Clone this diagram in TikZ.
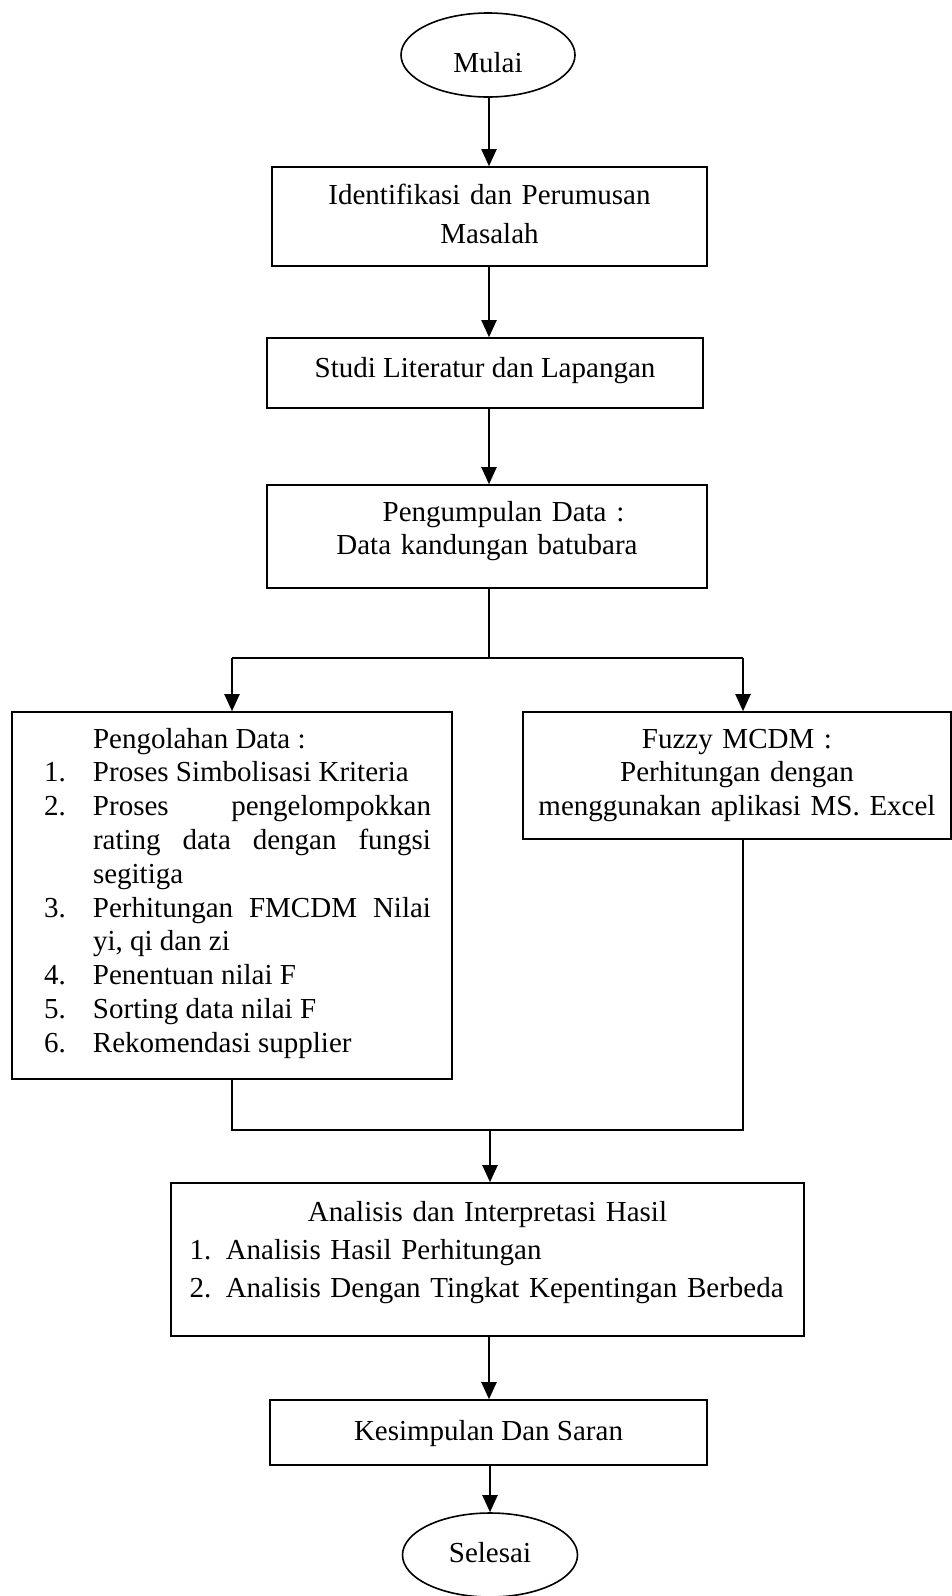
\documentclass[tikz,border=0pt]{standalone}
\usepackage{fontspec}
\setmainfont{Liberation Serif}
\usetikzlibrary{shapes.geometric,arrows.meta}
\newcommand{\olahitem}[1]{\leavevmode\llap{\makebox[49pt][l]{#1}}}
\begin{document}
\begin{tikzpicture}[
  x=1pt, y=-1pt,
  every node/.style={font=\fontsize{29}{33.8}\selectfont},
  term/.style={draw, ellipse, line width=1.6pt, inner sep=0pt, minimum width=174pt, minimum height=84pt},
  box/.style={draw, line width=1.6pt, inner sep=0pt, align=center},
  arr/.style={-{Triangle[length=17pt,width=15pt]}, line width=2pt},
  link/.style={line width=1.4pt}
]
\useasboundingbox (0,0) rectangle (952,1596);

\node[term, text height=34pt, text depth=0pt] (mulai) at (488,55) {Mulai};
\node[box, minimum width=435pt, minimum height=99pt, text width=420pt, text height=0pt, text depth=25pt, font=\fontsize{29}{39}\selectfont] (ident) at (489.5,216.5) {Identifikasi dan Perumusan\\Masalah};
\node[box, minimum width=436pt, minimum height=70pt, text height=8pt, text depth=0pt] (studi) at (485,373) {Studi Literatur dan Lapangan};
\node[box, minimum width=440pt, minimum height=103pt, text width=420pt, text height=0pt, text depth=31pt] (kumpul) at (487,536.5) {\hspace*{33pt}Pengumpulan Data :\\Data kandungan batubara};
\node[box, minimum width=440pt, minimum height=367pt, text width=398pt, align=justify, text height=0pt, text depth=295pt] (olah) at (232,895.5) {\leftskip=60pt\hyphenpenalty=10000\tolerance=10000\hbadness=10000 Pengolahan Data :\par
\olahitem{1.}Proses Simbolisasi Kriteria\par
\olahitem{2.}Proses pengelompokkan\linebreak rating data dengan fungsi\linebreak segitiga\par
\olahitem{3.}Perhitungan FMCDM Nilai\linebreak yi, qi dan zi\par
\olahitem{4.}Penentuan nilai F\par
\olahitem{5.}Sorting data nilai F\par
\olahitem{6.}Rekomendasi supplier\par};
\node[box, minimum width=428pt, minimum height=127pt, text width=410pt, text height=0pt, text depth=55pt] (fuzzy) at (737,775.5) {Fuzzy MCDM :\\Perhitungan dengan\\menggunakan aplikasi MS. Excel};
\node[box, minimum width=633pt, minimum height=153pt, text width=596pt, align=left, text height=0pt, text depth=77pt, font=\fontsize{29}{38}\selectfont] (analisis) at (487.5,1259.5) {{\centering Analisis dan Interpretasi Hasil\par}1. Analisis Hasil Perhitungan\\2. Analisis Dengan Tingkat Kepentingan Berbeda};
\node[box, minimum width=437pt, minimum height=65pt, text height=15pt, text depth=0pt] (simpul) at (488.5,1432.5) {Kesimpulan Dan Saran};
\node[term, minimum width=175pt, text height=14pt, text depth=0pt] (selesai) at (490,1555) {Selesai};

\coordinate (spine) at (489,0);
\coordinate (split) at (489,658);
\coordinate (dropR) at (743,0);
\coordinate (merge) at (490,1130);

\draw[arr] (mulai.south -| spine) -- (ident.north -| spine);
\draw[arr] (ident.south -| spine) -- (studi.north -| spine);
\draw[arr] (studi.south -| spine) -- (kumpul.north -| spine);
\draw[link] (kumpul.south -| spine) -- (split);
\draw[link] (olah.north |- split) -- (split -| dropR);
\draw[arr] (olah.north |- split) -- (olah.north);
\draw[arr] (split -| dropR) -- (fuzzy.north -| dropR);
\draw[link] (olah.south) |- (merge) -| (fuzzy.south -| dropR);
\draw[arr] (merge) -- (merge |- analisis.north);
\draw[arr] (analisis.south -| spine) -- (simpul.north -| spine);
\draw[arr] (simpul.south -| selesai) -- (selesai.north);
\end{tikzpicture}
\end{document}
